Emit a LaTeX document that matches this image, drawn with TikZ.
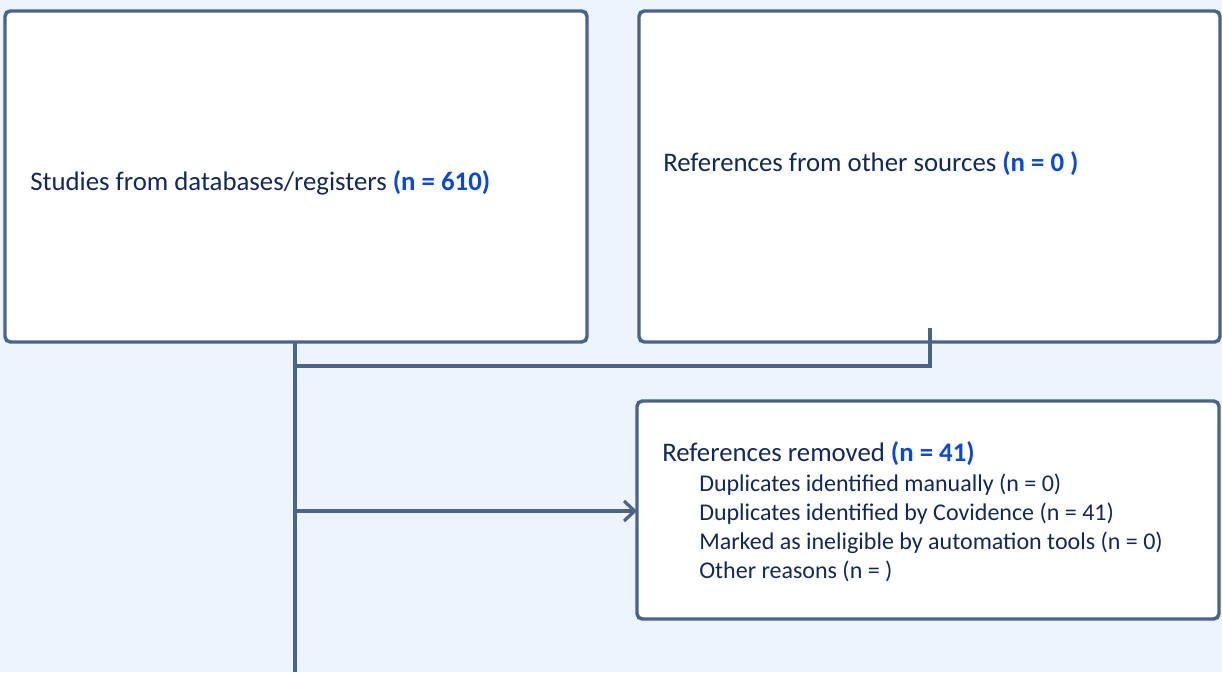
\documentclass[tikz,border=0pt]{standalone}
\usepackage{fontspec}
\setmainfont{Carlito}
\usetikzlibrary{arrows.meta}
\definecolor{bgblue}{HTML}{EDF4FE}
\definecolor{framec}{HTML}{4A6389}
\definecolor{textc}{HTML}{13285A}
\definecolor{numc}{HTML}{0B48D6}
\tikzset{
  px/.style={x=0.75pt,y=-0.75pt},
  panel/.style={draw=framec,line width=2.6pt,fill=white,rounded corners=4pt},
  link/.style={draw=framec,line width=2.4pt},
  lbl/.style={text=textc,anchor=base west,inner sep=0pt,font=\fontsize{20.1}{24}\selectfont},
  sublbl/.style={text=textc,anchor=base west,inner sep=0pt,font=\fontsize{18}{21}\selectfont},
}
\newcommand{\nval}[1]{\textcolor{numc}{\bfseries #1}}
\begin{document}
\begin{tikzpicture}[px]
  \fill[bgblue] (0,0) rectangle (1222,672);
  \useasboundingbox (0,0) rectangle (1222,672);
  % boxes
  \draw[panel] (5,11) rectangle (587,342);
  \draw[panel] (639,11) rectangle (1220,342);
  \draw[panel] (637,401) rectangle (1219,619);
  \coordinate (dbb) at (295,342);
  \coordinate (join) at (295,366);
  \coordinate (otherb) at (930,328);
  \coordinate (split) at (295,511);
  \coordinate (remw) at (637,511);
  \coordinate (down) at (295,672);
  % texts
  \node[lbl] (db) at (30,190) {Studies from databases/registers \nval{(n = 610)}};
  \node[lbl] (other) at (663,171) {References from other sources \nval{(n = 0 )}};
  \node[lbl] (removed) at (662,461) {References removed \nval{(n = 41)}};
  \node[sublbl] (r1) at (699,491) {Duplicates identified manually (n = 0)};
  \node[sublbl] (r2) at (699,520) {Duplicates identified by Covidence (n = 41)};
  \node[sublbl] (r3) at (699,549) {Marked as ineligible by automation tools (n = 0)};
  \node[sublbl] (r4) at (699,578) {Other reasons (n = )};
  % connectors
  \draw[link] (dbb) -- (down);
  \draw[link] (otherb) |- (join);
  \draw[link,-{Straight Barb[length=8pt,width=15pt,line width=2.4pt]}] (split) -- (remw);
\end{tikzpicture}
\end{document}
